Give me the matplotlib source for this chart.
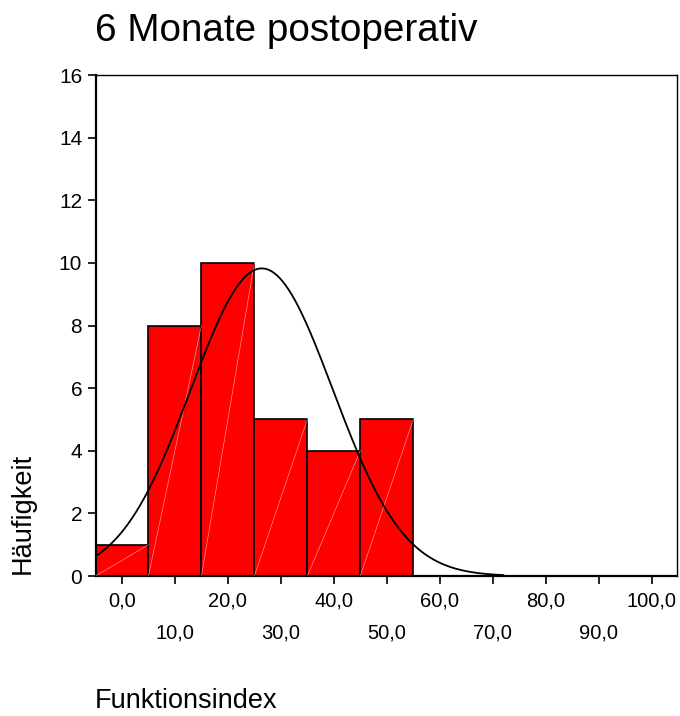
import numpy as np
import matplotlib
matplotlib.use("Agg")
import matplotlib.pyplot as plt

# histogram of Funktionsindex, 6 months after surgery
bin_edges = [-5, 5, 15, 25, 35, 45, 55]
counts = [1, 8, 10, 5, 4, 5]
curve_mean = 26.4
curve_sd = 13.4
curve_end = 72

even_ticks = [0, 20, 40, 60, 80, 100]
odd_ticks = [10, 30, 50, 70, 90]

plt.rcParams['font.family'] = ['Liberation Sans', 'DejaVu Sans']

fig = plt.figure(figsize=(6.8, 7.16), dpi=100)
ax = fig.add_axes([0.1412, 0.1955, 0.8544, 0.6997])

widths = np.diff(bin_edges)
lefts = np.array(bin_edges[:-1])
ax.bar(lefts, counts, width=widths, align='edge', color='#ff0000',
       edgecolor='black', linewidth=1.2, zorder=2)

# faint white diagonals inside each bar
for l, w, c in zip(lefts, widths, counts):
    ax.plot([l, l + w], [0, c], color='white', lw=0.4, alpha=0.7, zorder=3)

# normal curve scaled to counts
n = sum(counts)
bw = widths[0]
xs = np.linspace(bin_edges[0], curve_end, 400)
ys = n * bw / (curve_sd * np.sqrt(2 * np.pi)) * np.exp(-0.5 * ((xs - curve_mean) / curve_sd) ** 2)
ax.plot(xs, ys, color='black', lw=1.3, zorder=4)

ax.set_xlim(-4.9, 104.8)
ax.set_ylim(0, 16)
ax.set_yticks(range(0, 17, 2))
ax.set_xticks(even_ticks)
ax.set_xticklabels([f"{v:.1f}".replace('.', ',') for v in even_ticks])
ax.set_xticks(odd_ticks, minor=True)
ax.set_xticklabels([f"{v:.1f}".replace('.', ',') for v in odd_ticks], minor=True)

ax.tick_params(axis='x', which='major', direction='out', length=6, width=1.2,
               labelsize=14.5, pad=5.5)
ax.tick_params(axis='x', which='minor', direction='out', length=6, width=1.2,
               labelsize=14.5, pad=28.5)
ax.tick_params(axis='y', direction='out', length=6, width=1.2, labelsize=15, pad=4)

for s in ['left', 'bottom']:
    ax.spines[s].set_linewidth(1.6)
for s in ['top', 'right']:
    ax.spines[s].set_linewidth(1.0)

fig.text(0.1397, 0.9427, "6 Monate postoperativ", fontsize=27.8, ha='left', va='baseline')
fig.text(0.0338, 0.2835, "Häufigkeit", fontsize=19.5, rotation=90, ha='center', va='center')
fig.text(0.1397, 0.0112, "Funktionsindex", fontsize=19.5, ha='left', va='baseline')

fig.savefig("out.png", dpi=100)
